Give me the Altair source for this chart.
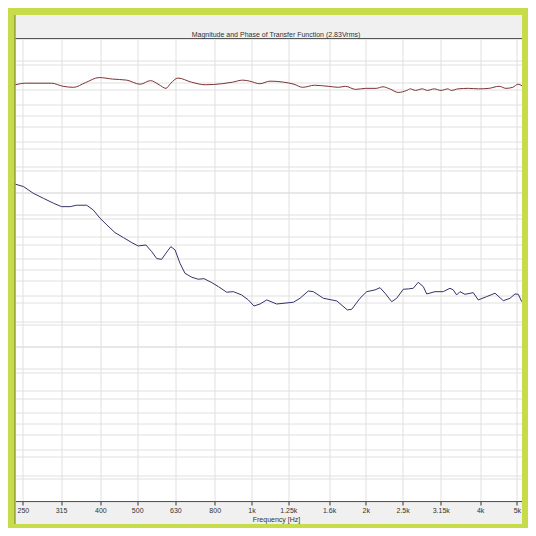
import altair as alt
import pandas as pd

# x-axis tick frequencies (Hz) and their labels
tick_freqs = [250, 315, 400, 500, 630, 800, 1000, 1250, 1600, 2000, 2500, 3150, 4000, 5000]

# Magnitude curve (upper, dark red)
mag_freq = [239, 254, 297, 319, 340, 365, 397, 431, 469, 509, 542, 571, 595, 613, 640, 695, 755, 837,
            891, 948, 989, 1052, 1119, 1216, 1294, 1363, 1465, 1592, 1695, 1767, 1880, 2000, 2129,
            2219, 2312, 2436, 2565, 2620, 2702, 2816, 2906, 3028, 3155, 3290, 3358, 3500, 3726,
            3964, 4219, 4488, 4680, 4877, 5031, 5157]
mag_db = [121.0, 121.3, 121.3, 120.7, 120.5, 121.4, 122.4, 122.1, 121.9, 121.1, 121.8, 121.0, 120.3,
          121.3, 122.3, 121.5, 121.0, 121.2, 121.5, 121.9, 121.7, 121.2, 121.7, 121.5, 121.1, 120.5,
          120.9, 120.7, 120.5, 120.7, 120.1, 120.3, 120.3, 120.6, 120.2, 119.5, 119.9, 120.2, 119.9,
          120.2, 119.9, 120.2, 119.9, 120.2, 119.9, 120.2, 120.3, 120.2, 120.3, 120.7, 120.3, 120.5,
          121.1, 120.8]

# Phase curve (lower, dark blue)
phase_freq = [239, 251, 266, 283, 301, 316, 333, 346, 368, 383, 399, 416, 437, 460, 484, 503, 527, 546,
              563, 580, 595, 613, 629, 648, 668, 696, 724, 750, 786, 818, 860, 896, 942, 981, 1015,
              1053, 1097, 1165, 1289, 1342, 1411, 1455, 1546, 1677, 1788, 1836, 1931, 2011, 2115,
              2180, 2247, 2340, 2412, 2510, 2588, 2667, 2749, 2834, 2894, 3043, 3199, 3332, 3399,
              3470, 3540, 3649, 3837, 3955, 4163, 4379, 4605, 4796, 4943, 5043, 5148]
phase_deg = [47.7, 45.5, 39.5, 34.9, 30.4, 27.3, 27.3, 28.6, 28.6, 24.3, 16.8, 10.7, 3.7, -0.8, -5.4,
             -8.4, -7.5, -13.6, -19.9, -20.5, -15.0, -9.0, -12.0, -24.1, -33.2, -36.8, -38.6, -38.1,
             -41.7, -45.3, -50.4, -49.9, -52.9, -57.4, -62.9, -61.1, -57.4, -61.1, -59.5, -55.9,
             -49.3, -49.9, -55.9, -58.3, -66.5, -65.9, -55.9, -49.9, -48.3, -46.3, -51.3, -59.0,
             -55.9, -47.7, -47.4, -46.8, -41.4, -45.3, -52.0, -49.9, -49.9, -46.8, -48.3, -52.9,
             -49.9, -52.3, -50.8, -57.4, -54.4, -51.3, -58.1, -55.9, -52.0, -52.3, -59.0]

mag_ticks = list(range(40, 131, 5))
phase_ticks = list(range(-240, 181, 20))

TITLE = "Magnitude and Phase of Transfer Function (2.83Vrms)"
FONT = "Liberation Sans, Arial, sans-serif"
GREEN = "#c8dc4b"
GRID = "#e0e0e0"

W, H = 506.5, 462.5

mag_df = pd.DataFrame({"freq": mag_freq, "db": mag_db})
phase_df = pd.DataFrame({"freq": phase_freq, "deg": phase_deg})
one = pd.DataFrame({"a": [0]})

xenc = alt.X(
    "freq:Q",
    scale=alt.Scale(type="log", domain=[239, 5157]),
    axis=alt.Axis(
        values=tick_freqs,
        labelExpr="datum.value >= 1000 ? (datum.value / 1000) + 'k' : datum.value",
        grid=True, gridColor=GRID, gridWidth=1,
        domainColor="#555555", tickColor="#333333", tickSize=4,
        labelFont=FONT, labelFontSize=7, labelColor="#333333", labelPadding=1,
        labelFlush=False, labelOverlap=False,
        title="Frequency [Hz]", titleFont=FONT, titleFontSize=7, titleFontWeight="normal",
        titleColor="#333333", titleX=260.5, titleY=18, titleBaseline="middle",
    ),
)

mag = alt.Chart(mag_df).mark_line(color="#7d3434", strokeWidth=1, interpolate="monotone").encode(
    x=xenc,
    y=alt.Y("db:Q", scale=alt.Scale(domain=[40, 130], nice=False, zero=False),
            axis=alt.Axis(orient="left", values=mag_ticks, labels=False, ticks=False,
                          domain=False, title=None, grid=True, gridColor=GRID)),
)

phase = alt.Chart(phase_df).mark_line(color="#33336a", strokeWidth=1).encode(
    x=xenc,
    y=alt.Y("deg:Q", scale=alt.Scale(domain=[-240, 180], nice=False, zero=False),
            axis=alt.Axis(orient="right", values=phase_ticks, labels=False, ticks=False,
                          domain=False, title=None, grid=True, gridColor=GRID)),
)

def strip(x1, x2, y1, y2, color):
    return alt.Chart(one).mark_rect(color=color).encode(
        x=alt.value(x1), x2=alt.value(x2), y=alt.value(y1), y2=alt.value(y2))

top_strip = strip(-7.5, W + 6, -30.5, -23.5, GREEN)
left_strip = strip(-7.5, -0.5, -30.5, H + 27, GREEN)
right_strip = strip(W, W + 6, -30.5, H + 27, GREEN)
bottom_strip = strip(-7.5, W + 6, H + 23, H + 27, GREEN)

left_line = alt.Chart(one).mark_rule(color="#6f7a2c", strokeWidth=1).encode(
    x=alt.value(-0.5), y=alt.value(-23.5), y2=alt.value(H + 23))
top_line = alt.Chart(one).mark_rule(color="#555555", strokeWidth=1).encode(
    x=alt.value(0), x2=alt.value(W), y=alt.value(0))

title = alt.Chart(one).mark_text(text=TITLE, font=FONT, fontSize=7, color="#333333",
                                 align="center", baseline="middle").encode(
    x=alt.value(260.5), y=alt.value(-3.5))

chart = alt.layer(
    mag, phase, top_strip, left_strip, right_strip, bottom_strip, left_line, top_line, title
).resolve_scale(y="independent").properties(
    width=W, height=H,
    background="#f0f0f0",
    autosize=alt.AutoSizeParams(type="none"),
    padding={"left": 7.5, "top": 30.5, "right": 6, "bottom": 27},
).configure_view(fill="white", stroke="transparent")

chart.save("out.html", embed_options={"renderer": "svg", "actions": False})
